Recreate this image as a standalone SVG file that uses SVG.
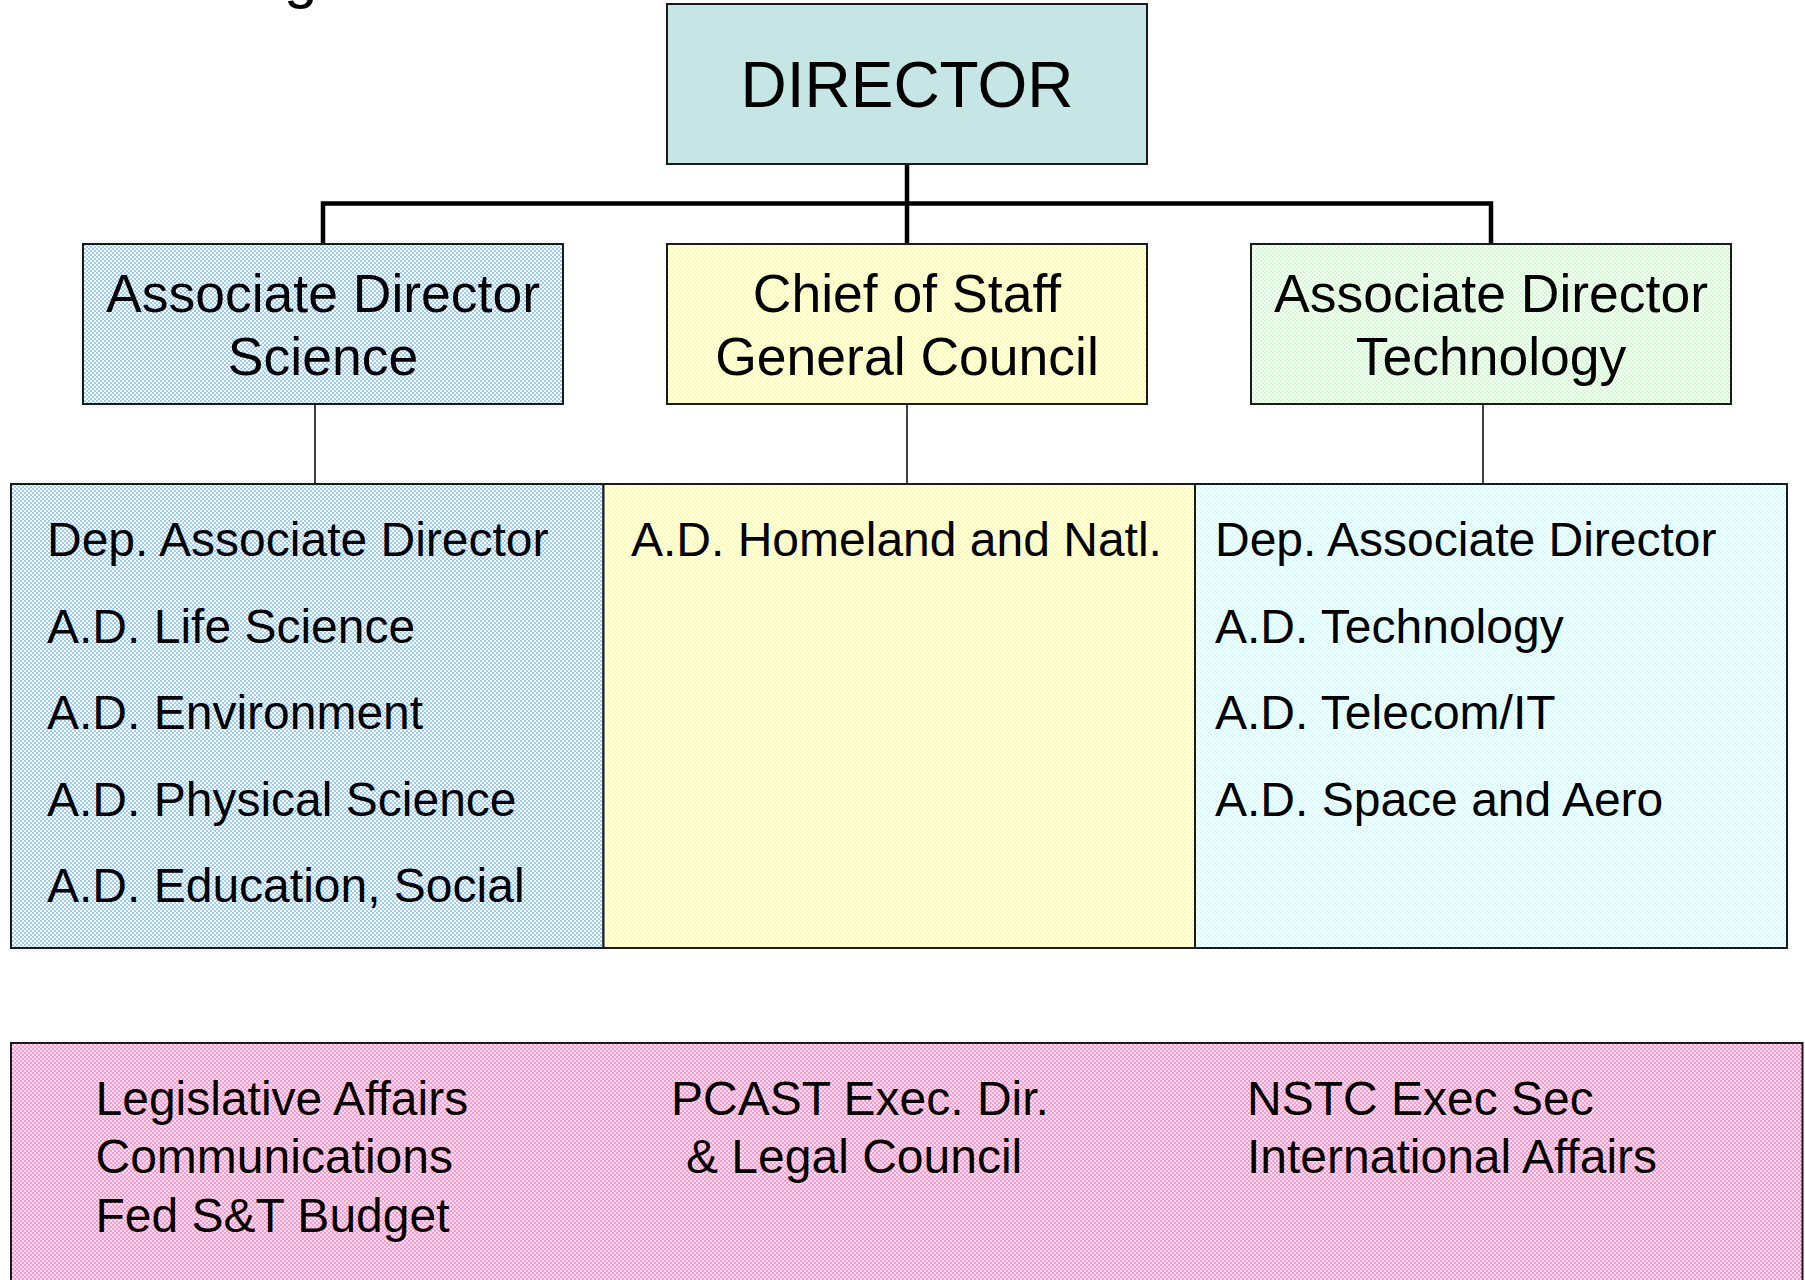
<svg xmlns="http://www.w3.org/2000/svg" width="1805" height="1280" viewBox="0 0 1805 1280">
<defs>
<pattern id="pBlue" width="4" height="4" patternUnits="userSpaceOnUse"><rect width="4" height="4" fill="#ffffff"/><rect width="2" height="2" fill="#99ccff"/><rect x="2" y="2" width="2" height="2" fill="#99ccff"/></pattern>
<pattern id="pYellow" width="4" height="4" patternUnits="userSpaceOnUse"><rect width="4" height="4" fill="#ffffff"/><rect width="2" height="2" fill="#ffff99"/><rect x="2" y="2" width="2" height="2" fill="#ffff99"/></pattern>
<pattern id="pGreen" width="4" height="4" patternUnits="userSpaceOnUse"><rect width="4" height="4" fill="#ffffff"/><rect width="2" height="2" fill="#ccffcc"/><rect x="2" y="2" width="2" height="2" fill="#ccffcc"/></pattern>
<pattern id="pCyan" width="4" height="4" patternUnits="userSpaceOnUse"><rect width="4" height="4" fill="#ffffff"/><rect width="2" height="2" fill="#ccffff"/><rect x="2" y="2" width="2" height="2" fill="#ccffff"/></pattern>
<pattern id="pPink" width="4" height="4" patternUnits="userSpaceOnUse"><rect width="4" height="4" fill="#ffe0f0"/><rect width="2" height="2" fill="#ff99cc"/><rect x="2" y="2" width="2" height="2" fill="#ff99cc"/></pattern>
</defs>
<style>
text{font-family:"Liberation Sans",Arial,sans-serif;fill:#000}
.box{stroke:#1a1a1a;stroke-width:2}
.t62{font-size:64px;text-anchor:middle}
.t53{font-size:53.5px;text-anchor:middle}
.t47{font-size:48px}
.thick{stroke:#000;stroke-width:4.5;fill:none}
.thin{stroke:#000;stroke-width:1.5;fill:none}
</style>
<rect width="1805" height="1280" fill="#ffffff"/>
<text x="284" y="-3" style="font-size:60px">g</text>

<g id="connectors">
<line class="thick" x1="907" y1="164" x2="907" y2="244"/>
<polyline class="thick" points="323,244 323,203.5 1491,203.5 1491,244"/>
<line class="thin" x1="315" y1="404" x2="315" y2="484"/>
<line class="thin" x1="907" y1="404" x2="907" y2="484"/>
<line class="thin" x1="1483" y1="404" x2="1483" y2="484"/>
</g>

<g id="director">
<rect class="box" x="667" y="4" width="480" height="160" fill="#c6e6e6"/>
<text class="t62" x="907" y="107">DIRECTOR</text>
</g>

<g id="ad-science">
<rect class="box" x="83" y="244" width="480" height="160" fill="url(#pBlue)"/>
<text class="t53" x="323" y="312">Associate Director</text>
<text class="t53" x="323" y="375">Science</text>
</g>

<g id="chief-of-staff">
<rect class="box" x="667" y="244" width="480" height="160" fill="url(#pYellow)"/>
<text class="t53" x="907" y="312">Chief of Staff</text>
<text class="t53" x="907" y="375">General Council</text>
</g>

<g id="ad-technology">
<rect class="box" x="1251" y="244" width="480" height="160" fill="url(#pGreen)"/>
<text class="t53" x="1491" y="312">Associate Director</text>
<text class="t53" x="1491" y="375">Technology</text>
</g>

<g id="science-staff">
<rect class="box" x="11" y="484" width="592.5" height="464" fill="url(#pBlue)"/>
<text class="t47" x="47" y="556">Dep. Associate Director</text>
<text class="t47" x="47" y="642.5">A.D. Life Science</text>
<text class="t47" x="47" y="729">A.D. Environment</text>
<text class="t47" x="47" y="815.5">A.D. Physical Science</text>
<text class="t47" x="47" y="902">A.D. Education, Social</text>
</g>

<g id="chief-staff">
<rect class="box" x="603.5" y="484" width="591.5" height="464" fill="url(#pYellow)"/>
<text class="t47" x="631" y="556">A.D. Homeland and Natl.</text>
</g>

<g id="technology-staff">
<rect class="box" x="1195" y="484" width="592" height="464" fill="url(#pCyan)"/>
<text class="t47" x="1215" y="556">Dep. Associate Director</text>
<text class="t47" x="1215" y="642.5">A.D. Technology</text>
<text class="t47" x="1215" y="729">A.D. Telecom/IT</text>
<text class="t47" x="1215" y="815.5">A.D. Space and Aero</text>
</g>

<g id="office-staff">
<rect class="box" x="11" y="1043" width="1791.5" height="260" fill="url(#pPink)"/>
<text class="t47" x="95.5" y="1115">Legislative Affairs</text>
<text class="t47" x="95.5" y="1173">Communications</text>
<text class="t47" x="95.5" y="1231.5">Fed S&amp;T Budget</text>
<text class="t47" x="671" y="1115">PCAST Exec. Dir.</text>
<text class="t47" x="686" y="1173">&amp; Legal Council</text>
<text class="t47" x="1247" y="1115">NSTC Exec Sec</text>
<text class="t47" x="1247" y="1173">International Affairs</text>
</g>
</svg>
